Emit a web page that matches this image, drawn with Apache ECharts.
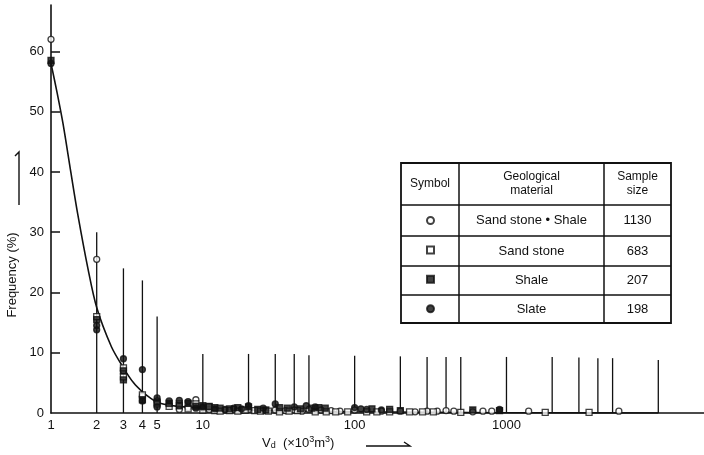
<!DOCTYPE html>
<html>
<head>
<meta charset="utf-8">
<script src="https://cdn.jsdelivr.net/npm/echarts@6/dist/echarts.min.js"></script>
<style>html,body{margin:0;padding:0;background:#fff}#c{width:704px;height:455px}</style>
</head>
<body>
<div id="c"></div>
<script>
// ---- data ----
const xTickLabels = [1, 2, 3, 4, 5, 10, 100, 1000];
const yTickLabels = [0, 10, 20, 30, 40, 50, 60];
const rangeLines = [[2,30],[3,24],[4,22],[5,16],[10,9.8],[20,9.8],[30,9.8],[40,9.8],[50,9.6],[100,9.5],[200,9.4],[300,9.3],[400,9.3],[500,9.3],[1000,9.3],[2000,9.3],[3000,9.2],[4000,9.1],[5000,9.1],[10000,8.8]];
const curvePts = [[1,58],[1.1,53],[1.2,48],[1.35,40],[1.5,33],[1.75,24],[2,17.5],[2.5,11],[3,7.5],[3.5,5],[4,3.5],[4.5,2.5],[5,1.8],[6,1.3],[7,1.1],[10,0.8],[20,0.5],[50,0.3],[100,0.2],[1000,0.05],[10000,0]];
const sandShale = [[1,62],[2,25.5],[3,7],[4,2.8],[5,2],[6,1.4],[7,0.6],[8,0.9],[9,2.2],[10,0.8],[11,0.6],[12,0.5],[14,0.5],[16,0.6],[18,0.5],[20,0.6],[25,0.4],[30,0.5],[35,0.4],[40,0.5],[45,0.3],[50,0.6],[60,0.5],[70,0.4],[80,0.3],[100,0.5],[150,0.3],[200,0.3],[250,0.2],[300,0.3],[350,0.3],[400,0.4],[450,0.3],[600,0.2],[700,0.3],[800,0.3],[1400,0.3],[5500,0.3]];
const sandStone = [[2,16],[3,7.5],[3,6],[4,3],[5,1.5],[6,1.1],[7,1.5],[8,0.7],[9,1.5],[10,0.5],[11,1.0],[12,0.4],[13,0.3],[15,0.4],[17,0.3],[19,0.5],[22,0.4],[24,0.3],[27,0.3],[32,0.2],[37,0.3],[42,0.4],[55,0.2],[65,0.2],[75,0.2],[90,0.2],[120,0.2],[140,0.2],[170,0.2],[230,0.2],[280,0.2],[330,0.2],[500,0.1],[1800,0.1],[3500,0.1]];
const shale = [[1,58.5],[2,15.5],[3,7],[3,5.5],[4,2.2],[5,1.8],[6,1.6],[7,1.2],[8,1.6],[9,1.1],[10,1.2],[11,1.1],[12,0.9],[13,0.8],[15,0.7],[17,0.9],[20,1.0],[23,0.6],[26,0.5],[32,0.9],[36,0.8],[44,0.7],[52,0.8],[58,0.9],[64,0.8],[130,0.7],[170,0.6],[200,0.4],[600,0.5],[900,0.4]];
const slate = [[1,58],[2,14.5],[2,13.8],[3,9],[4,7.2],[4,2],[5,2.5],[5,1.0],[6,2.0],[7,2.1],[8,1.9],[9,0.8],[10,1.0],[12,0.7],[14,0.6],[16,0.8],[18,0.7],[20,1.2],[25,0.8],[30,1.5],[40,1.0],[48,1.2],[55,1.0],[100,0.9],[110,0.7],[120,0.6],[150,0.5],[900,0.6]];
const tableHeader = ['Symbol', 'Geological\nmaterial', 'Sample\nsize'];
const materials = ['Sand stone • Shale', 'Sand stone', 'Shale', 'Slate'];
const sampleSizes = ['1130', '683', '207', '198'];

// ---- chart ----
const chart = echarts.init(document.getElementById('c'));
const F = 'Liberation Sans, Arial, sans-serif';
const black = '#111';

const tbl = {x0: 401, x1: 459, x2: 604, x3: 671, y0: 163, y1: 205, rows: [205, 236, 266, 295, 323]};
const g = [];
const lineStyle = {stroke: black, lineWidth: 1.5};
g.push({type:'rect', shape:{x:tbl.x0, y:tbl.y0, width:tbl.x3-tbl.x0, height:tbl.rows[4]-tbl.y0}, style:{fill:'none', stroke:black, lineWidth:1.8}});
[tbl.x1, tbl.x2].forEach(x => g.push({type:'line', shape:{x1:x, y1:tbl.y0, x2:x, y2:tbl.rows[4]}, style:lineStyle}));
tbl.rows.slice(0,4).forEach(y => g.push({type:'line', shape:{x1:tbl.x0, y1:y, x2:tbl.x3, y2:y}, style:lineStyle}));
const colCx = [(tbl.x0+tbl.x1)/2, (tbl.x1+tbl.x2)/2, (tbl.x2+tbl.x3)/2];
tableHeader.forEach((t,i) => g.push({type:'text', x:colCx[i], y:(tbl.y0+tbl.y1)/2, style:{text:t, font:'12px '+F, fill:black, align:'center', verticalAlign:'middle', lineHeight:14}}));
materials.forEach((t,i) => g.push({type:'text', x:colCx[1], y:(tbl.rows[i]+tbl.rows[i+1])/2, style:{text:t, font:'13px '+F, fill:black, align:'center', verticalAlign:'middle'}}));
sampleSizes.forEach((t,i) => g.push({type:'text', x:colCx[2], y:(tbl.rows[i]+tbl.rows[i+1])/2, style:{text:t, font:'13px '+F, fill:black, align:'center', verticalAlign:'middle'}}));
// axis names
g.push({type:'text', x:12, y:275, rotation:Math.PI/2, style:{text:'Frequency (%)', font:'13px '+F, fill:black, align:'center', verticalAlign:'middle'}});
g.push({type:'polyline', shape:{points:[[19,205],[19,152],[15,156]]}, style:{stroke:black, lineWidth:1.4, fill:'none'}});
g.push({type:'text', x:262, y:443, style:{text:'{v|V}{s|d}  (×10{sup|3}m{sup|3})', rich:{v:{font:'13px '+F, fill:black}, s:{font:'9px '+F, fill:black, padding:[6,0,0,0]}, sup:{font:'9px '+F, fill:black, padding:[0,0,6,0]}}, font:'13px '+F, fill:black, verticalAlign:'middle'}});
g.push({type:'polyline', shape:{points:[[366,446],[410,446],[404,442]]}, style:{stroke:black, lineWidth:1.4, fill:'none'}});

const scatterBase = (name, data, symbol, fill, size) => ({
  name, type:'scatter', data, symbol, symbolSize:size,
  itemStyle:{color:fill, borderColor:black, borderWidth:1.3}, z:5
});

chart.setOption({
  animation:false,
  grid:{left:51, right:0, top:5, bottom:42},
  legend:{
    orient:'vertical', left:426, top:216, itemWidth:7, itemHeight:7, itemGap:20.4, padding:0,
    formatter:() => '', selectedMode:false, textStyle:{fontSize:8},
    data:['Sand stone + Shale','Sand stone','Shale','Slate']
  },
  xAxis:{
    type:'log', logBase:10, min:1, max:20000,
    axisLine:{lineStyle:{color:black, width:1.6}},
    axisTick:{show:false},
    splitLine:{show:false},
    axisLabel:{customValues:xTickLabels, color:black, fontSize:13, fontFamily:F, margin:6,
      formatter: v => String(v)}
  },
  yAxis:{
    type:'value', min:0, max:67.7,
    axisLine:{show:true, lineStyle:{color:black, width:1.6}},
    axisTick:{show:true, inside:true, length:9, customValues:[10,20,30,40,50,60], lineStyle:{color:black, width:1.5}},
    splitLine:{show:false},
    axisLabel:{customValues:yTickLabels, color:black, fontSize:13, fontFamily:F, margin:7}
  },
  graphic:g,
  series:[
    {type:'custom', name:'range', data:rangeLines, z:2, silent:true,
      renderItem:(params, api) => {
        const p0 = api.coord([api.value(0), 0]);
        const p1 = api.coord([api.value(0), api.value(1)]);
        return {type:'line', shape:{x1:p0[0], y1:p0[1], x2:p1[0], y2:p1[1]}, style:{stroke:black, lineWidth:1.3}};
      }},
    {type:'line', name:'curve', data:curvePts, smooth:0.3, symbol:'none', lineStyle:{color:black, width:1.6}, z:3, silent:true},
    scatterBase('Sand stone + Shale', sandShale, 'circle', '#fff', 6),
    scatterBase('Sand stone', sandStone, 'rect', '#fff', 6),
    scatterBase('Shale', shale, 'rect', black, 6),
    scatterBase('Slate', slate, 'circle', black, 6)
  ]
});
</script>
</body>
</html>
